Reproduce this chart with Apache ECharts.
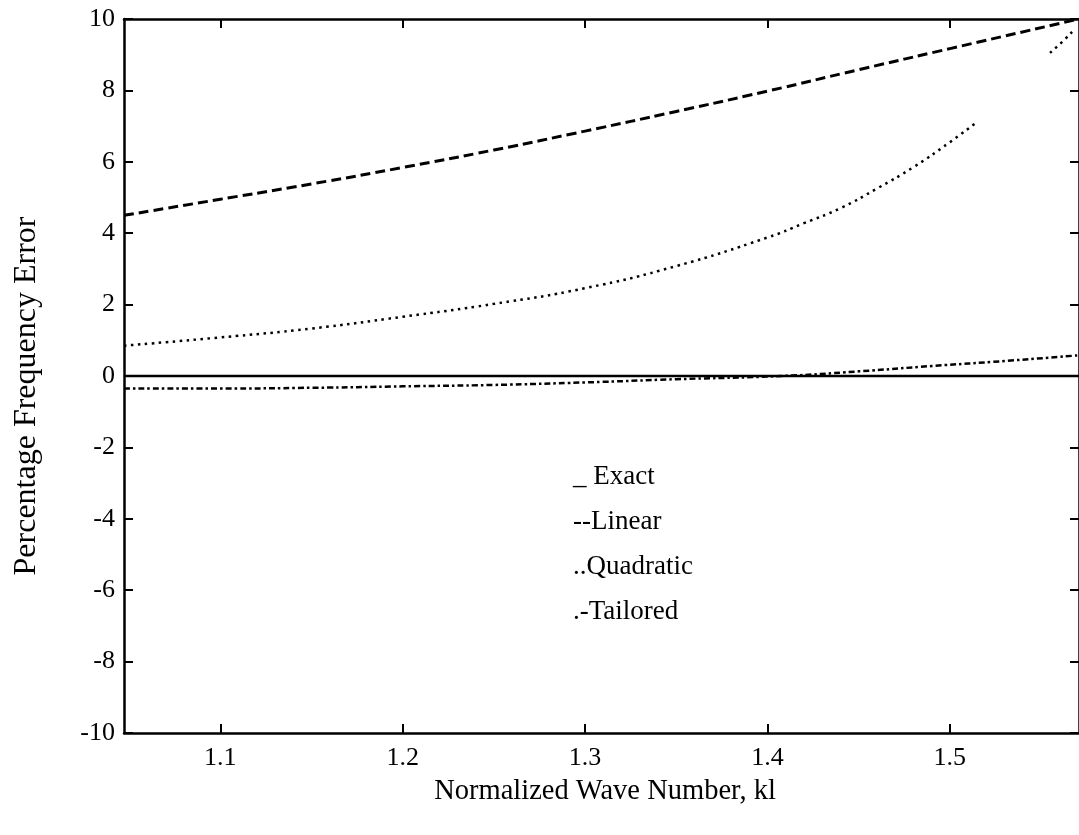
<!DOCTYPE html>
<html>
<head>
<meta charset="utf-8">
<script src="https://cdn.jsdelivr.net/npm/echarts@6/dist/echarts.min.js"></script>
<style>
  html, body { margin: 0; padding: 0; background: #fff; }
  #chart { width: 1079px; height: 835px; }
</style>
</head>
<body>
<div id="chart"></div>
<script>
// Frequency error of approximate dispersion relations vs normalized wave number kl
const xMin = Math.PI / 3;
const xMax = Math.PI / 2;
const xTicks = [1.1, 1.2, 1.3, 1.4, 1.5];

const exactKl = [xMin, xMax];
const exactErr = [0, 0];

const linearKl = [1.0472, 1.10, 1.15, 1.20, 1.25, 1.30, 1.35, 1.40, 1.45, 1.50, 1.5708];
const linearErr = [4.50, 4.95, 5.38, 5.84, 6.33, 6.86, 7.41, 7.98, 8.58, 9.17, 10.0];

const quadKl = [1.0472, 1.10, 1.15, 1.20, 1.25, 1.30, 1.35, 1.40, 1.42, 1.44, 1.46, 1.48, 1.50, 1.5137, null, 1.5549, 1.5620, 1.5670];
const quadErr = [0.85, 1.08, 1.33, 1.66, 2.02, 2.46, 3.08, 3.88, 4.28, 4.70, 5.25, 5.85, 6.55, 7.07, null, 9.05, 9.38, 9.64];

const tailKl = [1.0472, 1.10, 1.15, 1.20, 1.25, 1.30, 1.35, 1.4076, 1.45, 1.4901, 1.53, 1.5708];
const tailErr = [-0.35, -0.35, -0.33, -0.29, -0.25, -0.18, -0.09, 0.0, 0.13, 0.28, 0.42, 0.58];

const legendPrefix = { 'Exact': '_ ', 'Linear': '--', 'Quadratic': '..', 'Tailored': '.-' };

function pairs(xs, ys) {
  return xs.map((x, i) => (x === null ? [null, null] : [x, ys[i]]));
}

const serif = '"Liberation Serif", "DejaVu Serif", serif';
const lineW = 2.5;

const chart = echarts.init(document.getElementById('chart'), null, { renderer: 'canvas' });

const tickCommon = {
  show: true, inside: true, length: 9,
  lineStyle: { color: '#000', width: 2 }
};
const lineCommon = { show: true, onZero: false, lineStyle: { color: '#000', width: lineW } };

chart.setOption({
  animation: false,
  backgroundColor: '#fff',
  grid: { left: 124, right: 0, top: 19, bottom: 102, containLabel: false },
  xAxis: [
    {
      type: 'value', min: xMin, max: xMax, position: 'bottom',
      axisLine: lineCommon,
      axisTick: Object.assign({ customValues: xTicks }, tickCommon),
      axisLabel: {
        customValues: xTicks, margin: 12, color: '#000',
        fontFamily: serif, fontSize: 26,
        formatter: v => v.toFixed(1)
      },
      splitLine: { show: false }
    },
    {
      type: 'value', min: xMin, max: xMax, position: 'top',
      axisLine: lineCommon,
      axisTick: Object.assign({ customValues: xTicks }, tickCommon),
      axisLabel: { show: false },
      splitLine: { show: false }
    }
  ],
  yAxis: [
    {
      type: 'value', min: -10, max: 10, interval: 2, position: 'left',
      axisLine: lineCommon,
      axisTick: tickCommon,
      axisLabel: { margin: 9, color: '#000', fontFamily: serif, fontSize: 26 },
      splitLine: { show: false }
    },
    {
      type: 'value', min: -10, max: 10, interval: 2, position: 'right',
      axisLine: lineCommon,
      axisTick: tickCommon,
      axisLabel: { show: false },
      splitLine: { show: false }
    }
  ],
  legend: {
    orient: 'vertical', left: 563, top: 458,
    icon: 'none', itemWidth: 0, itemHeight: 26, itemGap: 18,
    selectedMode: false,
    data: ['Exact', 'Linear', 'Quadratic', 'Tailored'],
    formatter: name => legendPrefix[name] + name,
    textStyle: { color: '#000', fontFamily: serif, fontSize: 27, padding: 0 }
  },
  graphic: [
    {
      type: 'text', x: 605, y: 792,
      style: {
        text: 'Normalized Wave Number, kl', fill: '#000',
        font: '28.5px ' + serif, textAlign: 'center', textVerticalAlign: 'middle'
      }
    },
    {
      type: 'text', x: 27, y: 396, rotation: Math.PI / 2,
      style: {
        text: 'Percentage Frequency Error', fill: '#000',
        font: '32px ' + serif, textAlign: 'center', textVerticalAlign: 'middle'
      }
    }
  ],
  series: [
    {
      name: 'Exact', type: 'line', showSymbol: false, data: pairs(exactKl, exactErr),
      lineStyle: { color: '#000', width: lineW, type: 'solid' }, itemStyle: { color: '#000' }
    },
    {
      name: 'Linear', type: 'line', smooth: true, showSymbol: false, data: pairs(linearKl, linearErr),
      lineStyle: { color: '#000', width: 3, type: [10, 5] }, itemStyle: { color: '#000' }
    },
    {
      name: 'Quadratic', type: 'line', smooth: true, showSymbol: false, connectNulls: false,
      data: pairs(quadKl, quadErr),
      lineStyle: { color: '#000', width: 2.5, type: [2.5, 4.5] }, itemStyle: { color: '#000' }
    },
    {
      name: 'Tailored', type: 'line', smooth: true, showSymbol: false, data: pairs(tailKl, tailErr),
      lineStyle: { color: '#000', width: 2.5, type: [6, 3, 2.5, 3] }, itemStyle: { color: '#000' }
    }
  ]
});
</script>
</body>
</html>
